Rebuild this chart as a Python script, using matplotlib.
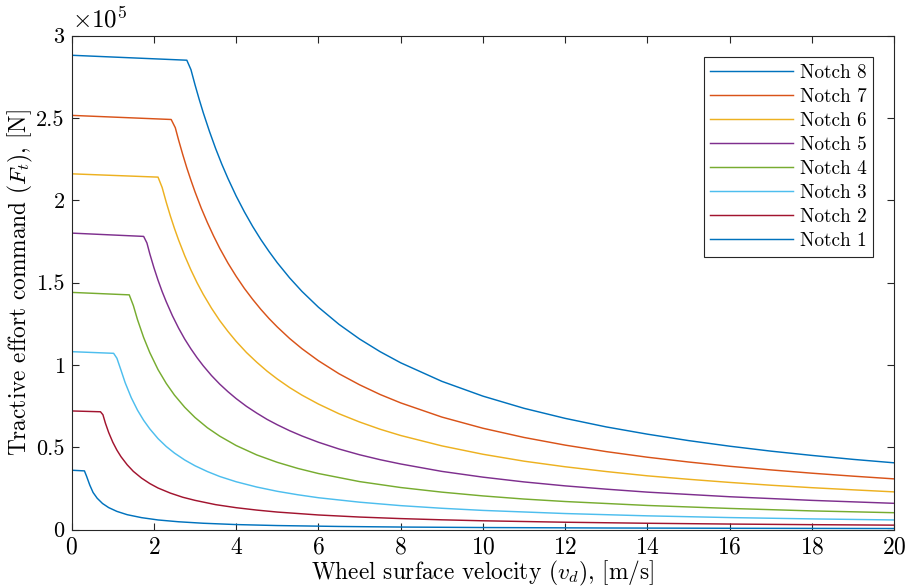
"""
Tractive effort command vs wheel surface velocity
Notch 1 - 8
"""

import numpy as np
import matplotlib
matplotlib.use("Agg")
import matplotlib.pyplot as plt
from matplotlib.ticker import FuncFormatter

# ==========================================
# Data (velocity in m/s, force in 1e5 N)
# ==========================================

v_notch8 = [0, 2.8, 2.9, 3.0, 3.1, 3.2, 3.35, 3.5, 3.65, 3.8, 4.0, 4.2,
            4.4, 4.6, 4.8, 5.0, 5.3, 5.6, 6.0, 6.5, 7, 7.5, 8, 9, 10, 11,
            12, 13, 14, 15, 16, 17, 18, 19, 20]
f_notch8 = [2.88, 2.85, 2.793, 2.70, 2.613, 2.531, 2.418, 2.314, 2.219,
            2.132, 2.025, 1.929, 1.841, 1.761, 1.688, 1.62, 1.528, 1.446,
            1.35, 1.246, 1.157, 1.08, 1.0125, 0.90, 0.81, 0.736, 0.675,
            0.623, 0.579, 0.54, 0.506, 0.476, 0.45, 0.426, 0.405]

v_notch7 = [0, 2.42, 2.52, 2.6, 2.7, 2.8, 2.9, 3.0, 3.15, 3.3, 3.45, 3.6,
            3.8, 4.0, 4.2, 4.4, 4.6, 4.8, 5.0, 5.3, 5.6, 6.0, 6.5, 7, 7.5,
            8, 9, 10, 11, 12, 13, 14, 15, 16, 17, 18, 19, 20]
f_notch7 = [2.515, 2.49, 2.44, 2.365, 2.278, 2.196, 2.121, 2.05, 1.952,
            1.864, 1.783, 1.708, 1.618, 1.5375, 1.464, 1.398, 1.337, 1.281,
            1.23, 1.16, 1.098, 1.025, 0.946, 0.879, 0.82, 0.769, 0.683,
            0.615, 0.559, 0.5125, 0.473, 0.439, 0.41, 0.384, 0.362, 0.342,
            0.324, 0.3075]

v_notch6 = [0, 2.1, 2.2, 2.3, 2.4, 2.5, 2.6, 2.75, 2.9, 3.05, 3.2, 3.4,
            3.6, 3.8, 4.0, 4.25, 4.5, 4.75, 5.0, 5.3, 5.6, 6.0, 6.5, 7,
            7.5, 8, 9, 10, 11, 12, 13, 14, 15, 16, 17, 18, 19, 20]
f_notch6 = [2.16, 2.14, 2.077, 1.987, 1.904, 1.828, 1.758, 1.662, 1.576,
            1.498, 1.428, 1.344, 1.269, 1.203, 1.1425, 1.075, 1.016, 0.962,
            0.914, 0.862, 0.816, 0.762, 0.703, 0.653, 0.609, 0.571, 0.508,
            0.457, 0.415, 0.381, 0.352, 0.326, 0.305, 0.286, 0.269, 0.254,
            0.241, 0.2285]

v_notch5 = [0, 1.75, 1.83, 1.9, 2.0, 2.1, 2.2, 2.3, 2.45, 2.6, 2.75, 2.9,
            3.05, 3.2, 3.4, 3.6, 3.8, 4.0, 4.25, 4.5, 4.75, 5, 5.3, 5.6, 6,
            6.5, 7, 7.5, 8, 9, 10, 11, 12, 13, 14, 16, 18, 20]
f_notch5 = [1.80, 1.78, 1.74, 1.674, 1.59, 1.514, 1.445, 1.383, 1.298,
            1.223, 1.156, 1.097, 1.043, 0.994, 0.935, 0.883, 0.837, 0.795,
            0.748, 0.707, 0.669, 0.636, 0.60, 0.568, 0.53, 0.489, 0.454,
            0.424, 0.398, 0.353, 0.318, 0.289, 0.265, 0.245, 0.227, 0.199,
            0.177, 0.159]

v_notch4 = [0, 1.4, 1.5, 1.6, 1.75, 1.9, 2.1, 2.3, 2.5, 2.75, 3.0, 3.3,
            3.6, 4.0, 4.5, 5, 5.5, 6, 7, 8, 9, 10, 11, 12, 14, 16, 18, 20]
f_notch4 = [1.44, 1.425, 1.36, 1.275, 1.166, 1.074, 0.971, 0.887, 0.816,
            0.742, 0.68, 0.618, 0.567, 0.51, 0.453, 0.408, 0.371, 0.34,
            0.291, 0.255, 0.227, 0.204, 0.185, 0.17, 0.146, 0.128, 0.113,
            0.102]

v_notch3 = [0, 1.02, 1.1, 1.2, 1.3, 1.45, 1.6, 1.75, 1.9, 2.1, 2.3, 2.5,
            2.75, 3.0, 3.3, 3.6, 4.0, 4.5, 5, 5.5, 6, 7, 8, 9, 10, 12, 14,
            16, 18, 20]
f_notch3 = [1.08, 1.07, 1.04, 0.967, 0.892, 0.80, 0.725, 0.663, 0.611,
            0.552, 0.504, 0.464, 0.422, 0.387, 0.352, 0.322, 0.29, 0.258,
            0.232, 0.211, 0.193, 0.166, 0.145, 0.129, 0.116, 0.097, 0.083,
            0.0725, 0.0644, 0.058]

v_notch2 = [0, 0.70, 0.76, 0.82, 0.9, 1.0, 1.1, 1.2, 1.35, 1.5, 1.7,
            1.9, 2.1, 2.4, 2.7, 3.0, 3.5, 4.0, 4.5, 5, 6, 7, 8, 9, 10,
            12, 14, 16, 18, 20]
f_notch2 = [0.72, 0.715, 0.697, 0.646, 0.589, 0.53, 0.482, 0.442, 0.393,
            0.353, 0.312, 0.279, 0.252, 0.221, 0.196, 0.177, 0.151, 0.1325,
            0.118, 0.106, 0.0883, 0.0757, 0.0663, 0.0589, 0.053, 0.0442,
            0.0379, 0.0331, 0.0294, 0.0265]

v_notch1 = [0, 0.31, 0.36, 0.44, 0.52, 0.62, 0.75, 0.9, 1.1, 1.35, 1.7,
            2.1, 2.6, 3.2, 4, 5, 6.5, 8, 10, 13, 16, 20]
f_notch1 = [0.36, 0.356, 0.325, 0.27, 0.225, 0.19, 0.158, 0.133, 0.11,
            0.09, 0.072, 0.058, 0.047, 0.038, 0.030, 0.024, 0.0185, 0.015,
            0.012, 0.0092, 0.0075, 0.006]

labels = ["Notch 8", "Notch 7", "Notch 6", "Notch 5",
          "Notch 4", "Notch 3", "Notch 2", "Notch 1"]

velocities = [v_notch8, v_notch7, v_notch6, v_notch5,
              v_notch4, v_notch3, v_notch2, v_notch1]

forces = [f_notch8, f_notch7, f_notch6, f_notch5,
          f_notch4, f_notch3, f_notch2, f_notch1]

# matlab default line order, wraps on the 8th line
colors = ["#0072BD", "#D95319", "#EDB120", "#7E2F8E",
          "#77AC30", "#4DBEEE", "#A2142F", "#0072BD"]

# ==========================================
# Style
# ==========================================

plt.rcParams["font.family"] = "cmr10"
plt.rcParams["mathtext.fontset"] = "cm"
plt.rcParams["axes.unicode_minus"] = False
plt.rcParams["axes.formatter.use_mathtext"] = True

fig = plt.figure(figsize=(9.05, 5.86), dpi=100)

ax = fig.add_axes([0.0792, 0.0964, 0.9088, 0.843])

# ==========================================
# Plot
# ==========================================

for v, f, lab, c in zip(velocities, forces, labels, colors):
    ax.plot(
        v,
        np.array(f) * 1e5,
        color=c,
        linewidth=1.05,
        label=lab
    )

ax.set_xlim(0, 20)
ax.set_ylim(0, 3e5)

ax.set_xticks(np.arange(0, 21, 2))
ax.set_yticks(np.arange(0, 3.01e5, 0.5e5))

ax.yaxis.set_major_formatter(
    FuncFormatter(lambda y, pos: f"{y / 1e5:g}")
)

ax.tick_params(
    direction="in",
    top=True,
    right=True,
    length=5,
    width=0.8,
    color="#262626",
    labelsize=17,
    pad=5
)
ax.tick_params(axis="y", labelsize=16, pad=5)

for sp in ax.spines.values():
    sp.set_linewidth(0.8)
    sp.set_color("#262626")

ax.text(
    0.0,
    1.006,
    r"$\times10^{5}$",
    transform=ax.transAxes,
    fontsize=18,
    ha="left",
    va="bottom"
)

ax.set_xlabel(
    r"Wheel surface velocity $(v_d)$, [m/s]",
    fontsize=16.8,
    labelpad=0
)

ax.set_ylabel(
    r"Tractive effort command $(F_t)$, [N]",
    fontsize=16.8,
    labelpad=1
)

leg = ax.legend(
    loc="upper right",
    bbox_to_anchor=(873 / 905, 1 - 57 / 586),
    bbox_transform=fig.transFigure,
    borderaxespad=0,
    fontsize=13.8,
    handlelength=4.3,
    handletextpad=0.35,
    labelspacing=0.32,
    borderpad=0.35,
    fancybox=False,
    framealpha=1,
    edgecolor="#262626"
)
leg.get_frame().set_linewidth(0.8)

fig.savefig("out.png", dpi=100)
